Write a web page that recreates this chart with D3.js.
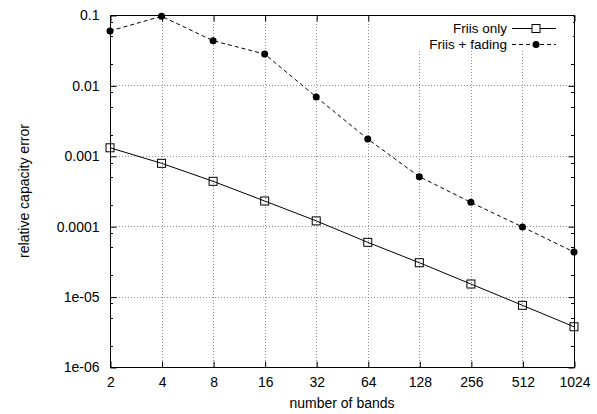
<!DOCTYPE html>
<html>
<head>
<meta charset="utf-8">
<script src="https://cdn.jsdelivr.net/npm/d3@7"></script>
<style>
  html, body { margin: 0; padding: 0; background: #fff; }
  svg { display: block; }
  text { font-family: "Liberation Sans", Arial, Helvetica, sans-serif; font-size: 14px; fill: #000; }
  text.leg { font-size: 13.5px; }
</style>
</head>
<body>
<svg id="chart" width="597" height="414"></svg>
<script>
// ---- data ----
const bands = [2, 4, 8, 16, 32, 64, 128, 256, 512, 1024];
const friisOnly = [1.30e-3, 7.82e-4, 4.34e-4, 2.28e-4, 1.19e-4, 5.9e-5, 3.03e-5, 1.51e-5, 7.52e-6, 3.73e-6];
const friisFading = [0.0593, 0.096, 0.0431, 0.0279, 0.00684, 0.00173, 0.000505, 0.000218, 9.75e-5, 4.3e-5];
const yTickValues = [1e-6, 1e-5, 1e-4, 1e-3, 1e-2, 1e-1];
const yTickLabels = ["1e-06", "1e-05", "0.0001", "0.001", "0.01", "0.1"];
const yMinorFactors = [2, 5, 8];
const seriesNames = ["Friis only", "Friis + fading"];
const xLabel = "number of bands";
const yLabel = "relative capacity error";

// ---- layout ----
const L = 110, R = 574, T = 15, B = 367;
const svg = d3.select("#chart");

const x = d3.scaleLog().base(2).domain([2, 1024]).range([L, R]);
const y = d3.scaleLog().domain([1e-6, 0.1]).range([B, T]);

// grid
const grid = svg.append("g").attr("stroke", "#909090").attr("stroke-width", 1).attr("stroke-dasharray", "1,2");
grid.selectAll(".vg").data(bands.slice(1, -1)).enter().append("line")
  .attr("x1", d => Math.round(x(d)) + 0.5).attr("x2", d => Math.round(x(d)) + 0.5)
  .attr("y1", T).attr("y2", B);
grid.selectAll(".hg").data(yTickValues.slice(1, -1)).enter().append("line")
  .attr("x1", L).attr("x2", R)
  .attr("y1", d => Math.round(y(d)) + 0.5).attr("y2", d => Math.round(y(d)) + 0.5);

// minor ticks
const minorVals = [];
yTickValues.slice(0, -1).forEach(v => yMinorFactors.forEach(f => minorVals.push(v * f)));
const mt = svg.append("g").attr("stroke", "#000").attr("stroke-width", 1);
minorVals.forEach(v => {
  const yy = Math.round(y(v)) + 0.5;
  mt.append("line").attr("x1", L).attr("x2", L + 3).attr("y1", yy).attr("y2", yy);
  mt.append("line").attr("x1", R - 3).attr("x2", R).attr("y1", yy).attr("y2", yy);
});

// axes
const fmtY = d => yTickLabels[yTickValues.indexOf(d)];
const ax = svg.append("g");
ax.append("g").attr("transform", `translate(0.5,${B + 0.5})`)
  .call(d3.axisBottom(x).tickValues(bands).tickFormat(d3.format("d")).tickSizeInner(-6).tickSizeOuter(0).tickPadding(10));
ax.append("g").attr("transform", `translate(0.5,${T + 0.5})`)
  .call(d3.axisTop(x).tickValues(bands).tickFormat("").tickSizeInner(-6).tickSizeOuter(0));
ax.append("g").attr("transform", `translate(${L + 0.5},0.5)`)
  .call(d3.axisLeft(y).tickValues(yTickValues).tickFormat(fmtY).tickSizeInner(-6).tickSizeOuter(0).tickPadding(11));
ax.append("g").attr("transform", `translate(${R + 0.5},0.5)`)
  .call(d3.axisRight(y).tickValues(yTickValues).tickFormat("").tickSizeInner(-6).tickSizeOuter(0));
ax.selectAll(".domain").remove();
ax.selectAll("text").attr("font-family", null).attr("font-size", null).attr("fill", "#000");
ax.selectAll(".tick line").attr("stroke", "#000");

// legend background (opaque key)
svg.append("rect").attr("x", 416).attr("y", T + 1).attr("width", R - 417).attr("height", 34).attr("fill", "#fff");

// border
svg.append("rect").attr("x", L + 0.5).attr("y", T + 0.5).attr("width", R - L).attr("height", B - T)
  .attr("fill", "none").attr("stroke", "#000").attr("stroke-width", 1);

// series
const line = d3.line().x(d => x(d[0])).y(d => y(d[1]));
const d1 = bands.map((b, i) => [b, friisOnly[i]]);
const d2 = bands.map((b, i) => [b, friisFading[i]]);

svg.append("path").datum(d1).attr("d", line).attr("fill", "none").attr("stroke", "#000").attr("stroke-width", 1);
svg.append("path").datum(d2).attr("d", line).attr("fill", "none").attr("stroke", "#000").attr("stroke-width", 1).attr("stroke-dasharray", "4,3");

svg.selectAll(".sq").data(d1).enter().append("rect")
  .attr("x", d => x(d[0]) - 4).attr("y", d => y(d[1]) - 4).attr("width", 8).attr("height", 8)
  .attr("fill", "none").attr("stroke", "#000").attr("stroke-width", 1);
svg.selectAll(".ci").data(d2).enter().append("circle")
  .attr("cx", d => x(d[0])).attr("cy", d => y(d[1])).attr("r", 3.5).attr("fill", "#000");

// legend
const lg = svg.append("g");
const legY = [28, 44];
seriesNames.forEach((n, i) => {
  lg.append("text").attr("class", "leg").attr("x", 507).attr("y", legY[i]).attr("dy", "0.35em").attr("text-anchor", "end").text(n);
  lg.append("line").attr("x1", 512).attr("x2", 556).attr("y1", legY[i] + 0.5).attr("y2", legY[i] + 0.5)
    .attr("stroke", "#000").attr("stroke-width", 1).attr("stroke-dasharray", i === 1 ? "4,3" : null);
});
lg.append("rect").attr("x", 536 - 4).attr("y", legY[0] - 3.5).attr("width", 8).attr("height", 8).attr("fill", "#fff").attr("stroke", "#000");
lg.append("circle").attr("cx", 536).attr("cy", legY[1] + 0.5).attr("r", 3.5).attr("fill", "#000");

// axis labels
svg.append("text").attr("x", (L + R) / 2).attr("y", 403).attr("dy", "0.35em").attr("text-anchor", "middle").text(xLabel);
svg.append("text").attr("transform", `translate(24,${(T + B) / 2}) rotate(-90)`).attr("dy", "0.35em").attr("text-anchor", "middle").text(yLabel);
</script>
</body>
</html>
